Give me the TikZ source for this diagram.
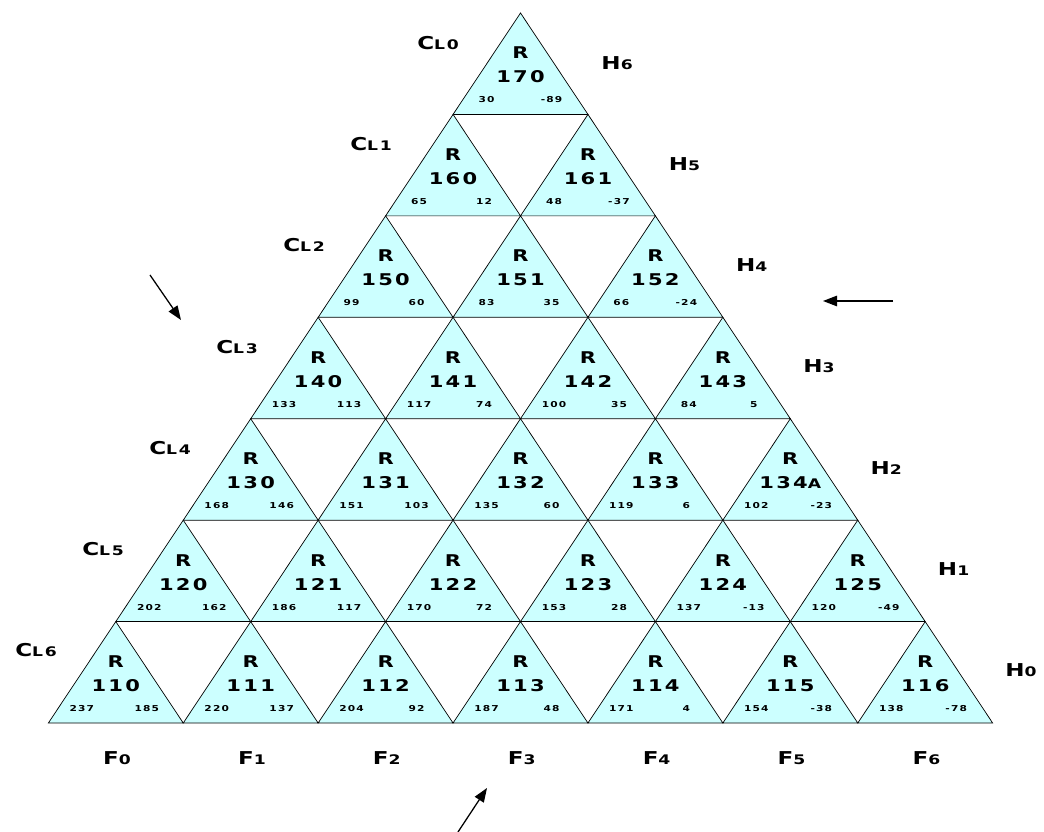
\documentclass[tikz,border=0pt]{standalone}
\usepackage{fontspec}
\usepackage{xcolor}
\usepackage{tikz}
\usetikzlibrary{arrows.meta}
\newfontfamily\widefont[FakeStretch=1.3,LetterSpace=14]{DejaVu Sans}
\definecolor{cellColor}{HTML}{CCFFFF}
\newcommand\sub[1]{{\fontsize{9.4}{10}\selectfont #1}}

\begin{document}
\begin{tikzpicture}[x=0.025cm, y=-0.025cm,
    cell/.style={draw=black, line width=0.5pt, fill=cellColor},
    big/.style={font=\widefont\bfseries\fontsize{11.5}{12}\selectfont, inner sep=0pt},
    small/.style={font=\widefont\bfseries\fontsize{5.8}{6}\selectfont, inner sep=0pt},
    side/.style={font=\widefont\bfseries\fontsize{12.6}{13}\selectfont, inner sep=0pt, anchor=west},
    pointer/.style={-{Triangle[length=10pt,width=7.5pt]}, line width=0.9pt}]
    \useasboundingbox (0,0) rectangle (1044,832);
    % cells: row/col/left value/right value
    \foreach \r/\j/\a/\b in {0/0/30/-89,
        1/0/65/12, 1/1/48/-37,
        2/0/99/60, 2/1/83/35, 2/2/66/-24,
        3/0/133/113, 3/1/117/74, 3/2/100/35, 3/3/84/5,
        4/0/168/146, 4/1/151/103, 4/2/135/60, 4/3/119/6, 4/4/102/-23,
        5/0/202/162, 5/1/186/117, 5/2/170/72, 5/3/153/28, 5/4/137/-13, 5/5/120/-49,
        6/0/237/185, 6/1/220/137, 6/2/204/92, 6/3/187/48, 6/4/171/4, 6/5/154/-38, 6/6/138/-78}{
        \pgfmathsetmacro\cx{520.5+(\j-\r/2)*134.9}
        \pgfmathsetmacro\ty{13+\r*101.43}
        \pgfmathtruncatemacro\num{170-10*\r+\j}
        \draw[cell] (\cx,\ty) -- ++(67.45,101.43) -- ++(-134.9,0) -- cycle;
        \node[big] (r-\r-\j) at (\cx,\ty+40) {R};
        \node[big] (n-\r-\j) at (\cx,\ty+64) {\num\ifnum\num=134{\sub{A}}\fi};
        \node[small] (a-\r-\j) at (\cx-34,\ty+87) {\a};
        \node[small] (b-\r-\j) at (\cx+31,\ty+87) {\b};
    }
    % side labels
    \foreach \k in {0,...,6}{
        \node[side] (cl\k) at ({417-67*\k},{43+101.2*\k}) {C\sub{L\k}};
        \node[side] (h\k) at ({1005-67.3*\k},{670-101.2*\k}) {H\sub{\k}};
        \node[side, anchor=center] (f\k) at ({117+134.9*\k},758) {F\sub{\k}};
    }
    % arrows
    \coordinate (in1) at (150,275);
    \coordinate (out1) at (181,320);
    \coordinate (in2) at (893,301);
    \coordinate (out2) at (823,301);
    \coordinate (in3) at (458,832);
    \coordinate (out3) at (487,788);
    \draw[pointer] (in1) -- (out1);
    \draw[pointer] (in2) -- (out2);
    \draw[pointer] (in3) -- (out3);
\end{tikzpicture}
\end{document}
